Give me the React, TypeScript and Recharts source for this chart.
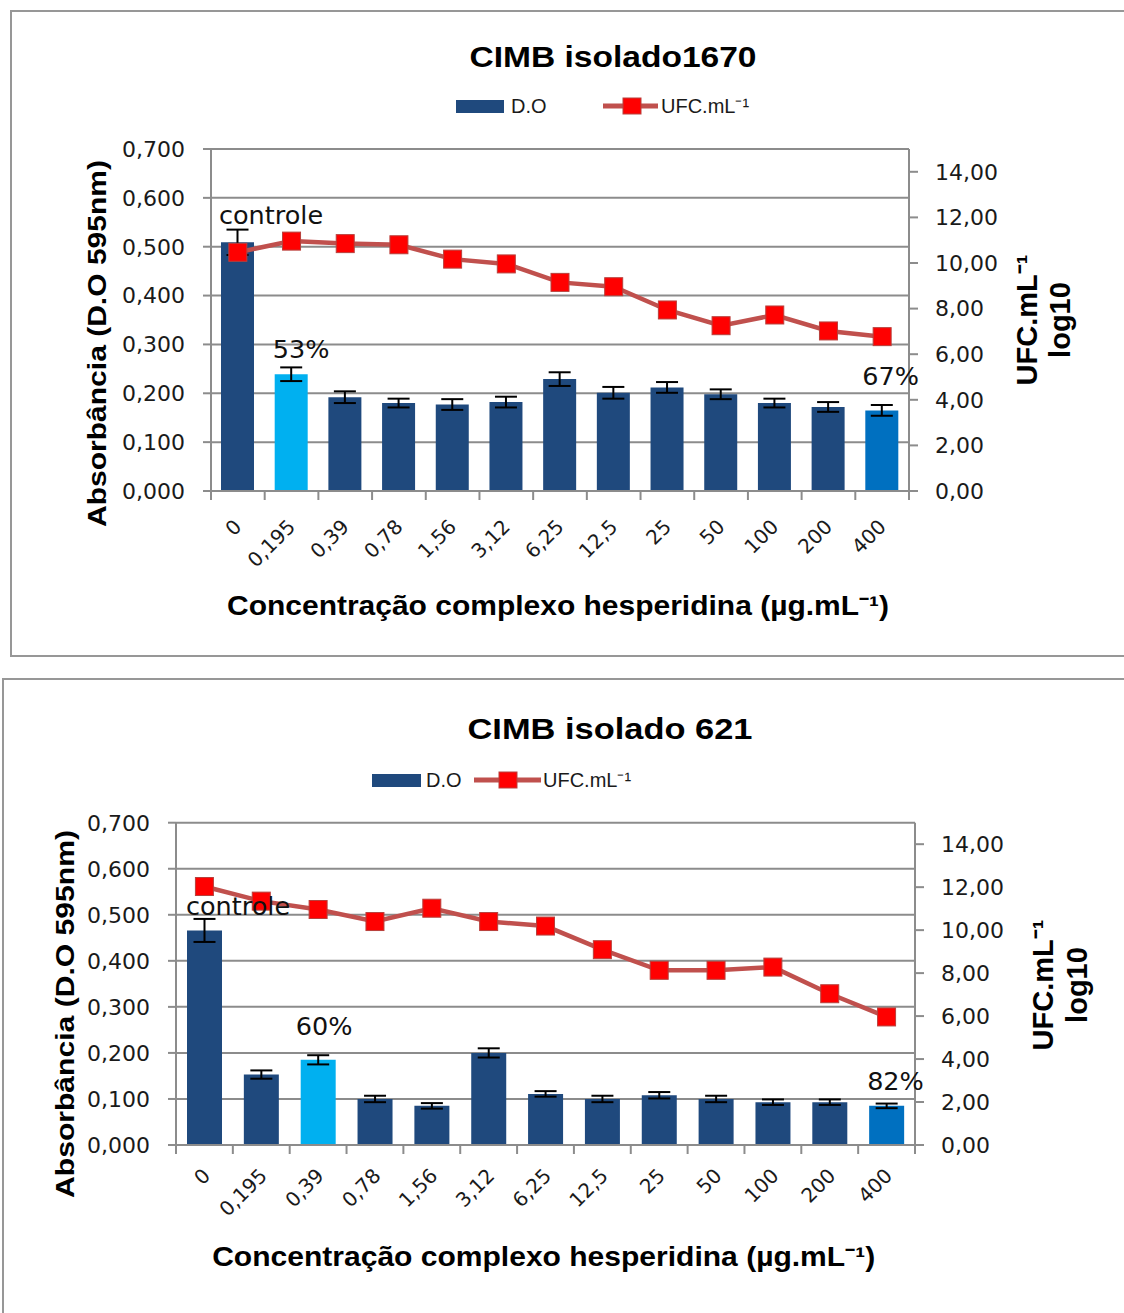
import React from "react";
import {
  ComposedChart,
  Bar,
  Line,
  XAxis,
  YAxis,
  CartesianGrid,
  ErrorBar,
  Cell,
  LabelList,
  Legend,
} from "recharts";

// hesperidin complex concentrations (µg/mL), shared by both isolates
const CONCENTRATIONS = ["0", "0,195", "0,39", "0,78", "1,56", "3,12", "6,25", "12,5", "25", "50", "100", "200", "400"];

const OD_TICKS = [0, 0.1, 0.2, 0.3, 0.4, 0.5, 0.6, 0.7];
const UFC_TICKS = [0, 2, 4, 6, 8, 10, 12, 14];

// isolate 1670
const OD_1670 = [0.509, 0.239, 0.192, 0.18, 0.177, 0.182, 0.229, 0.201, 0.212, 0.198, 0.18, 0.172, 0.165];
const OD_ERR_1670 = [0.026, 0.014, 0.012, 0.009, 0.011, 0.011, 0.014, 0.012, 0.011, 0.01, 0.009, 0.01, 0.011];
const UFC_1670 = [10.47, 10.96, 10.85, 10.8, 10.17, 9.96, 9.15, 8.96, 7.94, 7.25, 7.72, 7.02, 6.77];
const NOTES_1670 = ["controle", "53%", "", "", "", "", "", "", "", "", "", "", "67%"];

// isolate 621
const OD_621 = [0.466, 0.153, 0.185, 0.1, 0.085, 0.2, 0.111, 0.1, 0.108, 0.1, 0.093, 0.093, 0.085];
const OD_ERR_621 = [0.025, 0.009, 0.01, 0.007, 0.006, 0.01, 0.006, 0.007, 0.007, 0.007, 0.006, 0.006, 0.005];
const UFC_621 = [12.03, 11.35, 10.96, 10.4, 11.02, 10.4, 10.19, 9.09, 8.13, 8.13, 8.28, 7.04, 5.96];
const NOTES_621 = ["controle", "", "60%", "", "", "", "", "", "", "", "", "", "82%"];

const NAVY = "#1F497D";
const SKY = "#00B0F0";
const MID_BLUE = "#0070C0";
const LINE_RED = "#C0504D";
const MARKER_RED = "#FF0000";
const GRID = "#8C8C8C";
const INK = "#1a1a1a";
const TICK_FONT = "'DejaVu Sans', sans-serif";
const LABEL_FONT = "'Liberation Sans', Arial, sans-serif";
const PAGE_W = 1124;

type Row = { conc: string; od: number; err: number; ufc: number; note: string };

type PanelSpec = {
  title: string;
  rows: Row[];
  highlight: Record<number, string>;
  noteOffsets: Record<number, [number, number]>;
  frame: { left: number; top: number; height: number };
  chartTop: number;
  chartHeight: number;
  margin: { top: number; right: number; bottom: number; left: number };
  leftAxisWidth: number;
  barSize: number;
  xTickShift: [number, number];
  legend: {
    top: number;
    swatchX: number;
    swatchW: number;
    doX: number;
    lineX1: number;
    lineX2: number;
    markerX: number;
    ufcX: number;
  };
  text: {
    title: [number, number, number];
    yLeft: [number, number, number];
    yRight1: [number, number];
    yRight2: [number, number];
    xLabel: [number, number, number];
  };
};

const buildRows = (od: number[], err: number[], ufc: number[], notes: string[]): Row[] =>
  CONCENTRATIONS.map((conc, i) => ({ conc, od: od[i], err: err[i], ufc: ufc[i], note: notes[i] }));

const PANELS: PanelSpec[] = [
  {
    title: "CIMB isolado1670",
    rows: buildRows(OD_1670, OD_ERR_1670, UFC_1670, NOTES_1670),
    highlight: { 1: SKY, 12: MID_BLUE },
    noteOffsets: { 0: [-2, -18], 1: [-2, -16], 12: [-3, -25] },
    frame: { left: 10, top: 10, height: 647 },
    chartTop: 0,
    chartHeight: 660,
    margin: { top: 149, right: 95, bottom: 29, left: 0 },
    leftAxisWidth: 211,
    barSize: 33,
    xTickShift: [5, 37],
    legend: { top: 92, swatchX: 456, swatchW: 48, doX: 511, lineX1: 603, lineX2: 658, markerX: 632, ufcX: 661 },
    text: {
      title: [613, 67, 287],
      yLeft: [106, 343.5, 367],
      yRight1: [1037, 320],
      yRight2: [1070, 320],
      xLabel: [558, 615, 662],
    },
  },
  {
    title: "CIMB isolado 621",
    rows: buildRows(OD_621, OD_ERR_621, UFC_621, NOTES_621),
    highlight: { 2: SKY, 12: MID_BLUE },
    noteOffsets: { 0: [-1, -15], 2: [-5, -25], 12: [-2, -16] },
    frame: { left: 2, top: 678, height: 700 },
    chartTop: 670,
    chartHeight: 643,
    margin: { top: 152.7, right: 89, bottom: 28, left: 0 },
    leftAxisWidth: 176,
    barSize: 35,
    xTickShift: [7, 32],
    legend: { top: 96, swatchX: 372, swatchW: 49, doX: 426, lineX1: 474, lineX2: 541, markerX: 508, ufcX: 543 },
    text: {
      title: [610, 739, 285],
      yLeft: [73.5, 1014, 368],
      yRight1: [1053, 985],
      yRight2: [1087, 985],
      xLabel: [543.7, 1266, 663],
    },
  },
];

const fmtOd = (v: number) => v.toFixed(3).replace(".", ",");
const fmtUfc = (v: number) => v.toFixed(2).replace(".", ",");

const squareDot = (props: any) => {
  const { cx, cy, index } = props;
  return (
    <rect
      key={`sq-${index}`}
      x={cx - 9}
      y={cy - 9}
      width={18}
      height={18}
      fill={MARKER_RED}
      stroke="#B8403C"
      strokeWidth={1}
    />
  );
};

// rotated category label plus tick marks on the category boundaries
const makeConcTick = (shift: [number, number]) => (props: any) => {
  const { x, y, payload, index, visibleTicksCount } = props;
  const half = Number(payload?.offset) || 0;
  const isLast = index === visibleTicksCount - 1;
  return (
    <g>
      {half > 0 && <line x1={x - half} y1={y} x2={x - half} y2={y + 9} stroke={GRID} strokeWidth={2} />}
      {half > 0 && isLast && <line x1={x + half} y1={y} x2={x + half} y2={y + 9} stroke={GRID} strokeWidth={2} />}
      <text
        transform={`translate(${x + shift[0]},${y + shift[1]}) rotate(-45)`}
        textAnchor="end"
        fontSize={20}
        fontFamily={TICK_FONT}
        fill={INK}
      >
        {payload.value}
      </text>
    </g>
  );
};

const makeNote = (offsets: Record<number, [number, number]>) => (props: any) => {
  const { x, y, value, index } = props;
  if (!value) return null;
  const [dx, dy] = offsets[index] ?? [0, -16];
  return (
    <text x={Number(x) + dx} y={Number(y) + dy} fontSize={25.5} fontFamily={TICK_FONT} fill="#111">
      {value}
    </text>
  );
};

const makeLegend = (lg: PanelSpec["legend"]) => (props: any) => {
  const payload: any[] = props.payload ?? [];
  return (
    <svg width={PAGE_W} height={30} style={{ display: "block", overflow: "visible" }}>
      {payload.map((item) =>
        item.type === "line" ? (
          <g key="line">
            <line x1={lg.lineX1} y1={14} x2={lg.lineX2} y2={14} stroke={LINE_RED} strokeWidth={5} />
            <rect x={lg.markerX - 9} y={6} width={18} height={16} fill={MARKER_RED} stroke="#B8403C" strokeWidth={1} />
            <text x={lg.ufcX} y={21} fontSize={20} fontFamily={LABEL_FONT} fill={INK}>
              {item.value}
            </text>
          </g>
        ) : (
          <g key="bar">
            <rect x={lg.swatchX} y={8} width={lg.swatchW} height={13} fill={NAVY} />
            <text x={lg.doX} y={21} fontSize={20} fontFamily={LABEL_FONT} fill={INK}>
              {item.value}
            </text>
          </g>
        )
      )}
    </svg>
  );
};

function Panel({ spec }: { spec: PanelSpec }) {
  return (
    <div style={{ position: "absolute", left: 0, top: spec.chartTop }}>
      <ComposedChart width={PAGE_W} height={spec.chartHeight} data={spec.rows} margin={spec.margin}>
        <CartesianGrid horizontal vertical={false} yAxisId="od" xAxisId="cat" stroke={GRID} strokeWidth={2} />
        <XAxis
          xAxisId="cat"
          dataKey="conc"
          interval={0}
          height={140}
          tickLine={false}
          tickSize={0}
          tickMargin={0}
          axisLine={{ stroke: GRID, strokeWidth: 2 }}
          tick={makeConcTick(spec.xTickShift)}
        />
        <YAxis
          yAxisId="od"
          width={spec.leftAxisWidth}
          domain={[0, 0.7]}
          ticks={OD_TICKS}
          tickFormatter={fmtOd}
          tickSize={8}
          tickMargin={18}
          tickLine={{ stroke: GRID, strokeWidth: 2 }}
          axisLine={{ stroke: GRID, strokeWidth: 2 }}
          tick={{ fontSize: 22, fontFamily: TICK_FONT, fill: INK }}
        />
        <YAxis
          yAxisId="ufc"
          orientation="right"
          width={120}
          domain={[0, 15]}
          ticks={UFC_TICKS}
          tickFormatter={fmtUfc}
          tickSize={9}
          tickMargin={17}
          tickLine={{ stroke: GRID, strokeWidth: 2 }}
          axisLine={{ stroke: GRID, strokeWidth: 2 }}
          tick={{ fontSize: 22, fontFamily: TICK_FONT, fill: INK }}
        />
        <Legend
          layout="horizontal"
          verticalAlign="middle"
          align="center"
          wrapperStyle={{ left: 0, top: spec.legend.top, width: PAGE_W, height: 30 }}
          content={makeLegend(spec.legend)}
        />
        <Bar
          name="D.O"
          dataKey="od"
          xAxisId="cat"
          yAxisId="od"
          barSize={spec.barSize}
          fill={NAVY}
          isAnimationActive={false}
        >
          {spec.rows.map((_, i) => (
            <Cell key={i} fill={spec.highlight[i] ?? NAVY} />
          ))}
          <ErrorBar dataKey="err" width={11} strokeWidth={2} stroke="#000" direction="y" />
          <LabelList dataKey="note" content={makeNote(spec.noteOffsets)} />
        </Bar>
        <Line
          name="UFC.mL⁻¹"
          dataKey="ufc"
          xAxisId="cat"
          yAxisId="ufc"
          type="linear"
          stroke={LINE_RED}
          strokeWidth={4.5}
          dot={squareDot}
          activeDot={false}
          isAnimationActive={false}
        />
      </ComposedChart>
    </div>
  );
}

function PanelText({ spec }: { spec: PanelSpec }) {
  const t = spec.text;
  return (
    <g fill="#000" fontFamily={LABEL_FONT} fontWeight="bold">
      <text x={t.title[0]} y={t.title[1]} fontSize={29} textAnchor="middle" textLength={t.title[2]} lengthAdjust="spacingAndGlyphs">
        {spec.title}
      </text>
      <text
        transform={`translate(${t.yLeft[0]},${t.yLeft[1]}) rotate(-90)`}
        fontSize={25}
        textAnchor="middle"
        textLength={t.yLeft[2]}
        lengthAdjust="spacingAndGlyphs"
      >
        Absorbância (D.O 595nm)
      </text>
      <text transform={`translate(${t.yRight1[0]},${t.yRight1[1]}) rotate(-90)`} fontSize={29} textAnchor="middle">
        UFC.mL⁻¹
      </text>
      <text transform={`translate(${t.yRight2[0]},${t.yRight2[1]}) rotate(-90)`} fontSize={29} textAnchor="middle">
        log10
      </text>
      <text x={t.xLabel[0]} y={t.xLabel[1]} fontSize={27} textAnchor="middle" textLength={t.xLabel[2]} lengthAdjust="spacingAndGlyphs">
        Concentração complexo hesperidina (µg.mL⁻¹)
      </text>
    </g>
  );
}

export default function App() {
  return (
    <div
      style={{
        position: "absolute",
        left: 0,
        top: 0,
        width: PAGE_W,
        height: 1313,
        overflow: "hidden",
        background: "#fff",
      }}
    >
      {PANELS.map((p, i) => (
        <div
          key={`frame-${i}`}
          style={{
            position: "absolute",
            left: p.frame.left,
            top: p.frame.top,
            width: PAGE_W,
            height: p.frame.height,
            boxSizing: "border-box",
            border: "2px solid #979797",
          }}
        />
      ))}
      {PANELS.map((p, i) => (
        <Panel key={`panel-${i}`} spec={p} />
      ))}
      <svg
        width={PAGE_W}
        height={1313}
        style={{ position: "absolute", left: 0, top: 0, pointerEvents: "none" }}
      >
        {PANELS.map((p, i) => (
          <PanelText key={`text-${i}`} spec={p} />
        ))}
      </svg>
    </div>
  );
}
